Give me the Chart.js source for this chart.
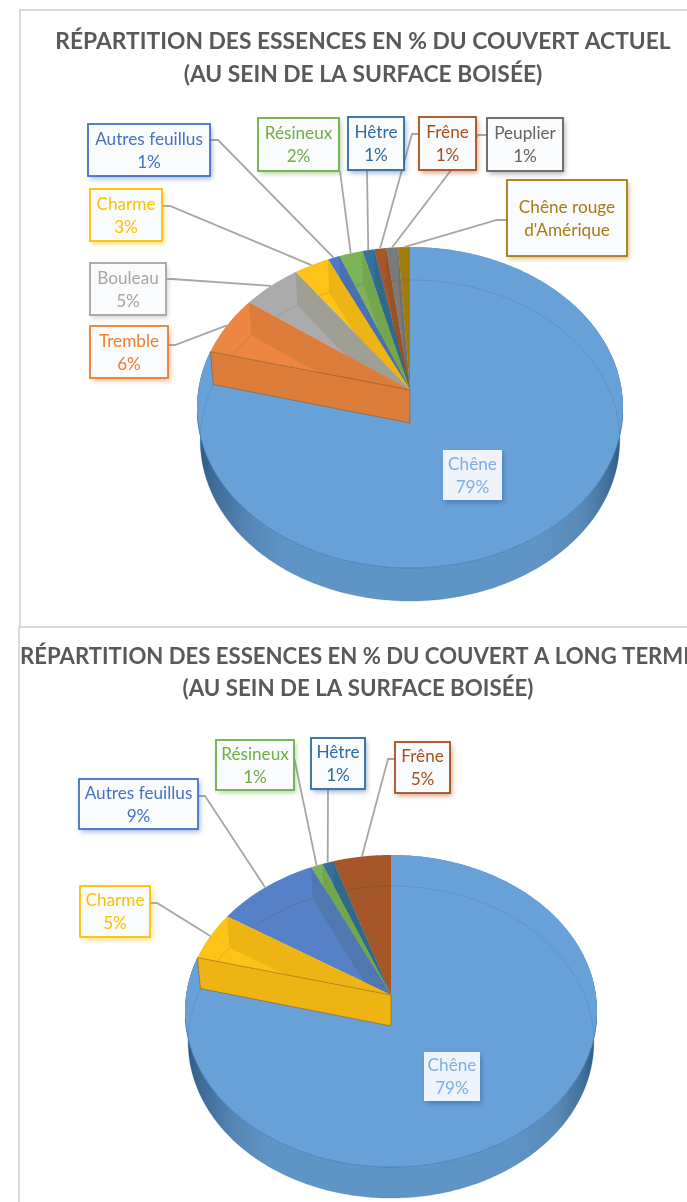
<!DOCTYPE html>
<html lang="fr">
<head>
<meta charset="utf-8">
<title>Répartition des essences</title>
<script src="https://cdn.jsdelivr.net/npm/chart.js@4"></script>
<style>
html, body { margin: 0; padding: 0; background: #fff; overflow: hidden; width: 687px; height: 1202px; }
.frame { position: absolute; border-left: 2px solid #d9d9d9; border-top: 2px solid #d9d9d9; }
canvas { position: absolute; }
</style>
</head>
<body>
<div class="frame" style="left:19px;top:9px;width:680px;height:617px"></div>
<div class="frame" style="left:18px;top:626px;width:680px;height:590px"></div>
<canvas id="chartActuel" width="686" height="616" style="left:20px;top:10px"></canvas>
<canvas id="chartLongTerme" width="676" height="574" style="left:20px;top:628px"></canvas>
<script>
// Données
const titleActuel = ['RÉPARTITION DES ESSENCES EN % DU COUVERT ACTUEL', '(AU SEIN DE LA SURFACE BOISÉE)'];
const categoriesActuel = ['Chêne', 'Tremble', 'Bouleau', 'Charme', 'Autres feuillus', 'Résineux', 'Hêtre', 'Frêne', 'Peuplier', "Chêne rouge d'Amérique"];
const valuesActuel = [79, 6, 5, 3, 1, 2, 1, 1, 1, 1];
const colorsActuel = ['#68a1d8', '#ed8543', '#ababab', '#ffc216', '#4f7ac7', '#7db357', '#36719e', '#a5572a', '#7a7a7a', '#a07c10'];

const titleLongTerme = ['RÉPARTITION DES ESSENCES EN % DU COUVERT A LONG TERME', '(AU SEIN DE LA SURFACE BOISÉE)'];
const categoriesLongTerme = ['Chêne', 'Charme', 'Autres feuillus', 'Résineux', 'Hêtre', 'Frêne'];
const valuesLongTerme = [79, 5, 9, 1, 1, 5];
const colorsLongTerme = ['#68a1d8', '#ffc216', '#5680c8', '#7db357', '#36719e', '#a5572a'];

// Couleurs des étiquettes
const labelColorsActuel = ['#7daee0', '#ed7d31', '#a5a5a5', '#ffc000', '#4472c4', '#70ad47', '#2f6aa0', '#a5501f', '#636363', '#a67c12'];
const labelColorsLongTerme = ['#7daee0', '#ffc000', '#4472c4', '#70ad47', '#2f6aa0', '#a5501f'];

// Mise en page (coordonnées de la page)
const viewActuel = { left: 20, top: 10, cx: 410, cy: 390, A: 211.7, B: 158.6, p: 0.109, depth: 33 };
const viewLongTerme = { left: 20, top: 628, cx: 391, cy: 995, A: 204.9, B: 154.4, p: 0.1027, depth: 31 };

const boxesActuel = [
    { x: 443, y: 450, w: 59, h: 50 },
    { x: 90, y: 326, w: 78, h: 52, elbow: [[168, 345], [175, 345]] },
    { x: 90, y: 263, w: 76, h: 52, elbow: [[166, 279], [172, 279]] },
    { x: 90, y: 189, w: 72, h: 52, elbow: [[162, 206], [170, 206]] },
    { x: 88, y: 124, w: 122, h: 52, elbow: [[210, 140], [218, 140]] },
    { x: 258, y: 118, w: 81, h: 53, elbow: [[340, 171]] },
    { x: 348, y: 117, w: 56, h: 53, elbow: [[367, 170]] },
    { x: 419, y: 117, w: 57, h: 53, elbow: [[419, 134], [412, 134]] },
    { x: 487, y: 118, w: 76, h: 53, elbow: [[487, 135], [478, 135]] },
    { x: 507, y: 180, w: 120, h: 76, elbow: [[507, 220], [497, 220]], lines: ['Chêne rouge', "d'Amérique"] }
];
const boxesLongTerme = [
    { x: 424, y: 1052, w: 56, h: 49 },
    { x: 80, y: 886, w: 70, h: 51, elbow: [[150, 903], [157, 903]] },
    { x: 79, y: 779, w: 119, h: 50, elbow: [[198, 796], [205, 796]] },
    { x: 216, y: 740, w: 78, h: 50, elbow: [[294, 757]] },
    { x: 311, y: 738, w: 54, h: 51, elbow: [[328, 789]] },
    { x: 395, y: 742, w: 55, h: 51, elbow: [[395, 759], [388, 759]] }
];

// Projection en perspective d'un point du disque
function project(v, theta, r, z) {
    const s = Math.sin(theta), c = Math.cos(theta);
    const w = 1 + v.p * c * r;
    return [v.cx + v.A * s * r / w * (1 - z * 0.015), v.cy - v.B * c * r / w + z * v.depth];
}

function rimPoints(v, a, b, z) {
    const pts = [];
    const n = Math.max(2, Math.ceil(Math.abs(b - a) / 0.01));
    for (let i = 0; i <= n; i++) {
        pts.push(project(v, a + (b - a) * i / n, 1, z));
    }
    return pts;
}

function tracePoly(ctx, pts) {
    ctx.beginPath();
    pts.forEach((p, i) => i ? ctx.lineTo(p[0], p[1]) : ctx.moveTo(p[0], p[1]));
    ctx.closePath();
}

function traceLine(ctx, pts) {
    ctx.beginPath();
    pts.forEach((p, i) => i ? ctx.lineTo(p[0], p[1]) : ctx.moveTo(p[0], p[1]));
}

function shade(hex) {
    const n = parseInt(hex.slice(1), 16);
    const r = Math.round((n >> 16) * 0.93), g = Math.round(((n >> 8) & 255) * 0.93), b = Math.round((n & 255) * 0.88);
    return `rgb(${r},${g},${b})`;
}

function withAlpha(hex, a) {
    const n = parseInt(hex.slice(1), 16);
    return `rgba(${n >> 16},${(n >> 8) & 255},${n & 255},${a})`;
}

function radialWall(v, theta) {
    return [project(v, theta, 1, 0), project(v, theta, 1, 1), project(v, theta, 0, 1), project(v, theta, 0, 0)];
}

// Dessin 3D à partir des arcs calculés par Chart.js
function pie3dPlugin(view, boxes, labelColors) {
    return {
        id: 'pie3d',
        beforeDatasetDraw(chart, args) {
            const ctx = chart.ctx;
            const v = view;
            const labels = chart.data.labels;
            const values = chart.data.datasets[0].data;
            const slices = args.meta.data.map(arc => {
                const p = arc.getProps(['startAngle', 'endAngle']);
                return { a: p.startAngle + Math.PI / 2, b: p.endAngle + Math.PI / 2, color: arc.options.backgroundColor };
            });
            ctx.save();
            ctx.translate(-v.left, -v.top);

            // Chêne : paroi extérieure puis dessus
            const main = slices[0];
            const wallPts = rimPoints(v, main.a, main.b, 0).concat(rimPoints(v, main.a, main.b, 1).reverse());
            const grad = ctx.createLinearGradient(v.cx - v.A * 1.005, 0, v.cx + v.A * 1.005, 0);
            grad.addColorStop(0, '#2b5880');
            grad.addColorStop(0.04, '#3f6d99');
            grad.addColorStop(0.12, '#5586b5');
            grad.addColorStop(0.2, '#5f94c6');
            grad.addColorStop(0.8, '#5f94c6');
            grad.addColorStop(0.9, '#5a8ab8');
            grad.addColorStop(0.96, '#45739f');
            grad.addColorStop(1, '#2b5880');
            tracePoly(ctx, wallPts);
            ctx.fillStyle = grad;
            ctx.fill();

            tracePoly(ctx, [project(v, 0, 0, 0)].concat(rimPoints(v, main.a, main.b, 0)));
            ctx.fillStyle = main.color;
            ctx.fill();

            traceLine(ctx, rimPoints(v, main.a, main.b, 1));
            ctx.strokeStyle = 'rgba(50,100,160,0.22)';
            ctx.lineWidth = 1;
            ctx.stroke();
            traceLine(ctx, rimPoints(v, Math.PI * 0.55, Math.PI * 1.45, 0));
            ctx.strokeStyle = 'rgba(60,120,190,0.8)';
            ctx.stroke();

            // Autres secteurs, du dernier au premier
            for (let i = slices.length - 1; i >= 1; i--) {
                const s = slices[i];
                tracePoly(ctx, [project(v, 0, 0, 0)].concat(rimPoints(v, s.a, s.b, 0)));
                ctx.fillStyle = s.color;
                ctx.fill();
                traceLine(ctx, rimPoints(v, s.a, s.b, 1));
                ctx.strokeStyle = 'rgba(60,40,20,0.13)';
                ctx.lineWidth = 1;
                ctx.stroke();
                tracePoly(ctx, radialWall(v, s.b));
                ctx.fillStyle = shade(s.color);
                ctx.fill();
            }

            // Paroi avant du premier secteur
            const first = slices[1];
            const front = radialWall(v, first.a);
            tracePoly(ctx, front);
            ctx.fillStyle = shade(first.color);
            ctx.fill();
            ctx.strokeStyle = 'rgba(120,70,10,0.45)';
            ctx.lineWidth = 1;
            ctx.stroke();

            // Traits de rappel
            boxes.forEach((box, i) => {
                if (!box.elbow) return;
                const mid = (slices[i].a + slices[i].b) / 2;
                traceLine(ctx, box.elbow.concat([project(v, mid, 1, 0)]));
                ctx.strokeStyle = '#a6a6a6';
                ctx.lineWidth = 1.8;
                ctx.stroke();
            });

            // Étiquettes
            boxes.forEach((box, i) => {
                const color = labelColors[i];
                const inner = !box.elbow;
                ctx.save();
                ctx.shadowColor = withAlpha(inner ? '#2f5f9f' : color, 0.5);
                ctx.shadowOffsetX = 2;
                ctx.shadowOffsetY = 3;
                ctx.shadowBlur = 5;
                ctx.fillStyle = inner ? '#eff4fc' : '#fafbfc';
                ctx.fillRect(box.x, box.y, box.w, box.h);
                ctx.restore();
                if (!inner) {
                    ctx.strokeStyle = color;
                    ctx.lineWidth = 1.8;
                    ctx.strokeRect(box.x, box.y, box.w, box.h);
                }
                const lines = box.lines || [labels[i], values[i] + '%'];
                ctx.fillStyle = color;
                ctx.font = '17.2px Lato';
                ctx.textAlign = 'center';
                ctx.textBaseline = 'middle';
                const mx = box.x + box.w / 2, my = box.y + box.h / 2;
                ctx.fillText(lines[0], mx, my - 11);
                ctx.fillText(lines[1], mx, my + 12);
            });

            ctx.restore();
            return false;
        }
    };
}

function makeChart(id, title, titleTop, titleSize, labels, values, colors, view, boxes, labelColors) {
    return new Chart(document.getElementById(id).getContext('2d'), {
        type: 'pie',
        data: {
            labels: labels,
            datasets: [{ data: values, backgroundColor: colors, borderWidth: 0 }]
        },
        options: {
            responsive: false,
            animation: false,
            plugins: {
                legend: { display: false },
                tooltip: { enabled: false },
                title: {
                    display: true,
                    text: title,
                    color: '#595959',
                    font: { family: 'Lato', size: titleSize, weight: 'bold', lineHeight: 1.44 },
                    padding: { top: titleTop, bottom: 10 }
                }
            }
        },
        plugins: [pie3dPlugin(view, boxes, labelColors)]
    });
}

makeChart('chartActuel', titleActuel, 15, 22.8, categoriesActuel, valuesActuel, colorsActuel, viewActuel, boxesActuel, labelColorsActuel);
makeChart('chartLongTerme', titleLongTerme, 13, 22.3, categoriesLongTerme, valuesLongTerme, colorsLongTerme, viewLongTerme, boxesLongTerme, labelColorsLongTerme);
</script>
</body>
</html>
